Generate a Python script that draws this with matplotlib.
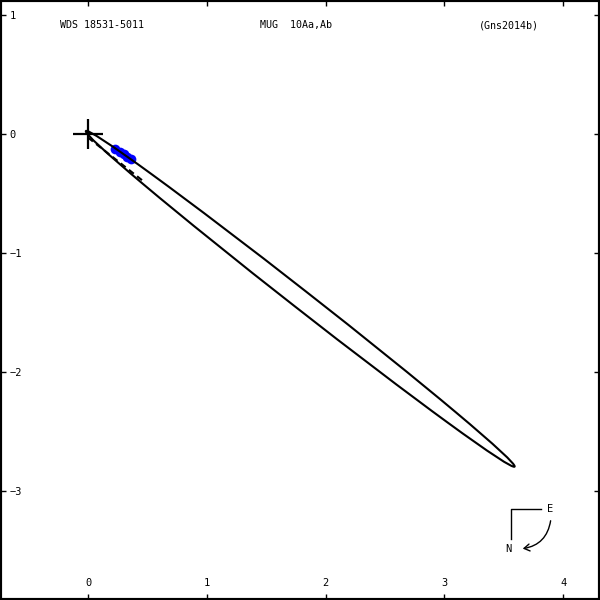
# WDS orbit plot: 18531-5011  MUG 10Aa,Ab
import numpy as np
import matplotlib
matplotlib.use("Agg")
import matplotlib.pyplot as plt
from matplotlib.patches import Ellipse, FancyArrowPatch

# orbit ellipse (arcsec)
orbit_center = (1.787, -1.385)
orbit_major = 4.58
orbit_minor = 0.156
orbit_angle = -38.0

# line of nodes (dashed, short piece from the primary)
nodes_x = [0.0, 0.47]
nodes_y = [-0.03, -0.40]

# measurements (blue dots)
obs_x = [0.23, 0.27, 0.30, 0.33, 0.36]
obs_y = [-0.13, -0.15, -0.17, -0.19, -0.21]

xticks = [0, 1, 2, 3, 4]
yticks = [1, 0, -1, -2, -3]

title_left = "WDS 18531-5011"
title_mid = "MUG  10Aa,Ab"
title_right = "(Gns2014b)"

fnt = "DejaVu Sans Mono"

fig = plt.figure(figsize=(6, 6), dpi=100)
ax = fig.add_axes([0, 0, 1, 1])
ax.set_xlim(-0.741, 4.311)
ax.set_ylim(-3.916, 1.126)

ax.plot(obs_x, obs_y, "o", color="#0000ff", markersize=7, markeredgewidth=0, zorder=2)

ell = Ellipse(orbit_center, orbit_major, orbit_minor, angle=orbit_angle,
              fill=False, edgecolor="black", linewidth=1.5, zorder=3)
ax.add_patch(ell)

ax.plot(nodes_x, nodes_y, color="black", linewidth=1.5, linestyle=(0, (3, 2)), zorder=3)

# primary star
ax.plot([0], [0], marker="+", color="black", markersize=22, markeredgewidth=1.6, zorder=4)

# ticks inside on all four sides, labels inside too
ax.set_xticks(xticks)
ax.set_yticks(yticks)
ax.tick_params(axis="both", direction="in", length=4.5, width=1, top=True, right=True,
               labelsize=7.5, colors="black")
ax.tick_params(axis="y", pad=-7)
ax.tick_params(axis="x", pad=-8.5)
for lab in ax.get_yticklabels():
    lab.set_horizontalalignment("left")
    lab.set_fontfamily(fnt)
for lab in ax.get_xticklabels():
    lab.set_verticalalignment("bottom")
    lab.set_fontfamily(fnt)

for sp in ax.spines.values():
    sp.set_linewidth(3)

ax.text(60 / 600, 1 - 25 / 600, title_left, transform=ax.transAxes, fontsize=7.2,
        family=fnt, ha="left", va="center")
ax.text(260 / 600, 1 - 25 / 600, title_mid, transform=ax.transAxes, fontsize=7.2,
        family=fnt, ha="left", va="center")
ax.text(479 / 600, 1 - 25 / 600, title_right, transform=ax.transAxes, fontsize=7.2,
        family=fnt, ha="left", va="center")

# compass
ax.plot([541 / 600, 511 / 600, 511 / 600], [1 - 509 / 600, 1 - 509 / 600, 1 - 539 / 600],
        color="black", linewidth=1, transform=ax.transAxes)
ax.text(550 / 600, 1 - 509 / 600, "E", transform=ax.transAxes, fontsize=7.5, family=fnt,
        ha="center", va="center")
ax.text(508 / 600, 1 - 549 / 600, "N", transform=ax.transAxes, fontsize=7.5, family=fnt,
        ha="center", va="center")
arr = FancyArrowPatch((551 / 600, 1 - 518 / 600), (520 / 600, 1 - 549 / 600),
                      transform=ax.transAxes, connectionstyle="arc3,rad=-0.4",
                      arrowstyle="->,head_length=4,head_width=2.5", color="black", linewidth=1)
ax.add_patch(arr)

fig.savefig("out.png", dpi=100)
